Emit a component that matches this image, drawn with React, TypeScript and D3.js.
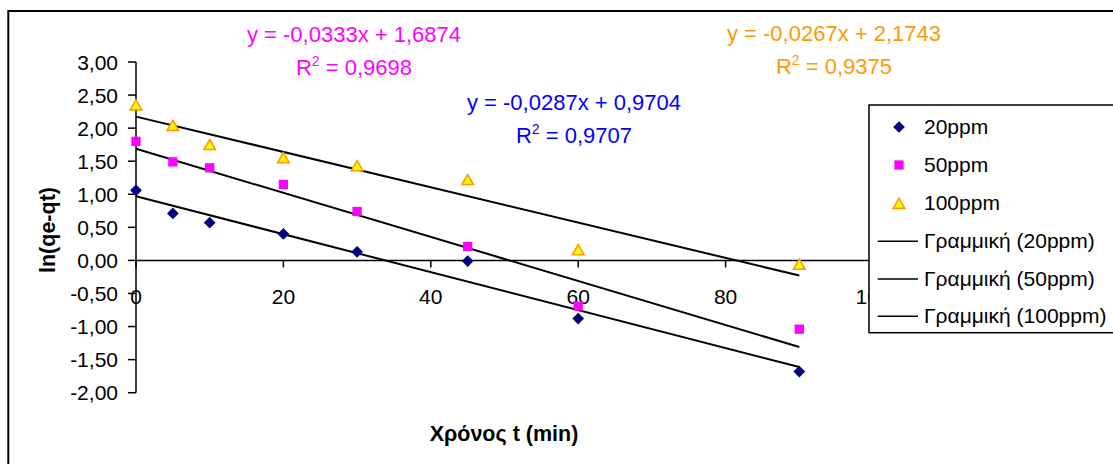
import React from "react";
import * as d3 from "d3";

// sampling times (min)
const times = [0, 5, 10, 20, 30, 45, 60, 90];

// ln(qe-qt) for each concentration
const ppm20 = [1.06, 0.71, 0.57, 0.4, 0.13, -0.01, -0.88, -1.68];
const ppm50 = [1.8, 1.49, 1.4, 1.15, 0.74, 0.21, -0.69, -1.04];
const ppm100 = [2.35, 2.04, 1.75, 1.55, 1.43, 1.22, 0.16, -0.06];

// linear trendlines (as printed on the chart)
const slopes = [-0.0287, -0.0333, -0.0267];
const intercepts = [0.9704, 1.6874, 2.1743];
const r2 = ["0,9707", "0,9698", "0,9375"];

const seriesNames = ["20ppm", "50ppm", "100ppm"];
// 120 sits under the legend box, so it gets a tick but no visible label
const xTicks = [0, 20, 40, 60, 80, 100, 120];
const xLabels = [0, 20, 40, 60, 80, 100];
const yTicks = [3, 2.5, 2, 1.5, 1, 0.5, 0, -0.5, -1, -1.5, -2];

const font = "'Liberation Sans', Arial, sans-serif";

const fmtNum = (v: number, digits: number) => v.toFixed(digits).replace(".", ",");

class App extends React.Component {
  render() {
    var width = 1113;
    var height = 464;

    var x = d3.scaleLinear().domain([0, 120]).range([136, 1020.4]);
    var y = d3.scaleLinear().domain([-2, 3]).range([392.7, 62]);

    var all = [ppm20, ppm50, ppm100];

    var diamond = d3.symbol(d3.symbolSquare, 69)() as string;
    var square = d3.symbol(d3.symbolSquare, 86)() as string;
    var triangle = d3.symbol(d3.symbolTriangle, 58)() as string;

    var marker = function (i: number, cx: number, cy: number, key: string) {
      if (i === 0)
        return <path key={key} d={diamond} fill="#000080" transform={"translate(" + cx + "," + cy + ") rotate(45)"} />;
      if (i === 1)
        return <path key={key} d={square} fill="#FF00FF" transform={"translate(" + cx + "," + cy + ")"} />;
      return <path key={key} d={triangle} fill="#FFFF00" stroke="#FF9900" strokeWidth={1.6} transform={"translate(" + cx + "," + (cy + 1.5) + ")"} />;
    };

    // equation labels
    var eqColors = ["#0000FF", "#FF00FF", "#FF9900"];
    var eqPos = [
      { cx: 574, y1: 110, y2: 143 },
      { cx: 354, y1: 41.5, y2: 75 },
      { cx: 834, y1: 41, y2: 74 },
    ];

    var legendRows = [133.5, 171.5, 210, 248.3, 286, 323.3];

    return (
      <svg width={width} height={height} style={{ position: "absolute", left: 0, top: 0, background: "#fff" }} fontFamily={font}>
        <rect x={0} y={0} width={width} height={height} fill="#fff" />
        {/* chart frame */}
        <rect x={8.3} y={11} width={1200} height={600} fill="none" stroke="#000" strokeWidth={2} />

        {/* y axis */}
        <line x1={x(0)} x2={x(0)} y1={y(-2)} y2={y(3)} stroke="#000" strokeWidth={1.5} />
        {yTicks.map((v) => (
          <g key={"y" + v}>
            <line x1={x(0) - 8} x2={x(0)} y1={y(v)} y2={y(v)} stroke="#000" strokeWidth={1.5} />
            <text x={118} y={y(v) + 7.5} textAnchor="end" fontSize={21}>
              {fmtNum(v, 2)}
            </text>
          </g>
        ))}

        {/* x axis */}
        <line x1={x(0)} x2={x(120)} y1={y(0)} y2={y(0)} stroke="#000" strokeWidth={1.5} />
        {xTicks.map((v) => (
          <line key={"xt" + v} x1={x(v)} x2={x(v)} y1={y(0)} y2={y(0) + 7} stroke="#000" strokeWidth={1.5} />
        ))}
        {xLabels.map((v) => (
          <text key={"xl" + v} x={x(v)} y={304} textAnchor="middle" fontSize={21}>
            {v}
          </text>
        ))}

        {/* trendlines */}
        {slopes.map((m, i) => {
          var ends = [times[0], times[times.length - 1]];
          var path = d3
            .line<number>()
            .x((t) => x(t))
            .y((t) => y(m * t + intercepts[i]))(ends);
          return <path key={"tr" + i} d={path as string} fill="none" stroke="#000" strokeWidth={2} />;
        })}

        {/* points */}
        {all.map((vals, i) => (
          <g key={"s" + i}>{vals.map((v, j) => marker(i, x(times[j]), y(v), "p" + i + "-" + j))}</g>
        ))}

        {/* equations */}
        {slopes.map((m, i) => (
          <g key={"eq" + i} fill={eqColors[i]} fontSize={22} textAnchor="middle">
            <text x={eqPos[i].cx} y={eqPos[i].y1}>
              {"y = " + fmtNum(m, 4) + "x + " + fmtNum(intercepts[i], 4)}
            </text>
            <text x={eqPos[i].cx} y={eqPos[i].y2}>
              R<tspan fontSize={14} dy={-9}>2</tspan>
              <tspan dy={9}>{" = " + r2[i]}</tspan>
            </text>
          </g>
        ))}

        {/* axis titles */}
        <text x={504} y={441} textAnchor="middle" fontSize={21.5} fontWeight="bold">
          Χρόνος t (min)
        </text>
        <text transform="translate(55,230) rotate(-90)" textAnchor="middle" fontSize={21.5} fontWeight="bold">
          ln(qe-qt)
        </text>

        {/* legend */}
        <rect x={869} y={105} width={300} height={227.7} fill="#fff" stroke="#000" strokeWidth={1.5} />
        {seriesNames.map((n, i) => (
          <g key={"lg" + i}>
            {marker(i, 899, legendRows[i] - 6.5, "lm" + i)}
            <text x={924} y={legendRows[i]} fontSize={21}>
              {n}
            </text>
          </g>
        ))}
        {seriesNames.map((n, i) => (
          <g key={"lt" + i}>
            <line x1={877.7} x2={918} y1={legendRows[i + 3] - 7} y2={legendRows[i + 3] - 7} stroke="#000" strokeWidth={1.5} />
            <text x={924} y={legendRows[i + 3]} fontSize={21}>
              {"Γραμμική (" + n + ")"}
            </text>
          </g>
        ))}
      </svg>
    );
  }
}

export default App;
